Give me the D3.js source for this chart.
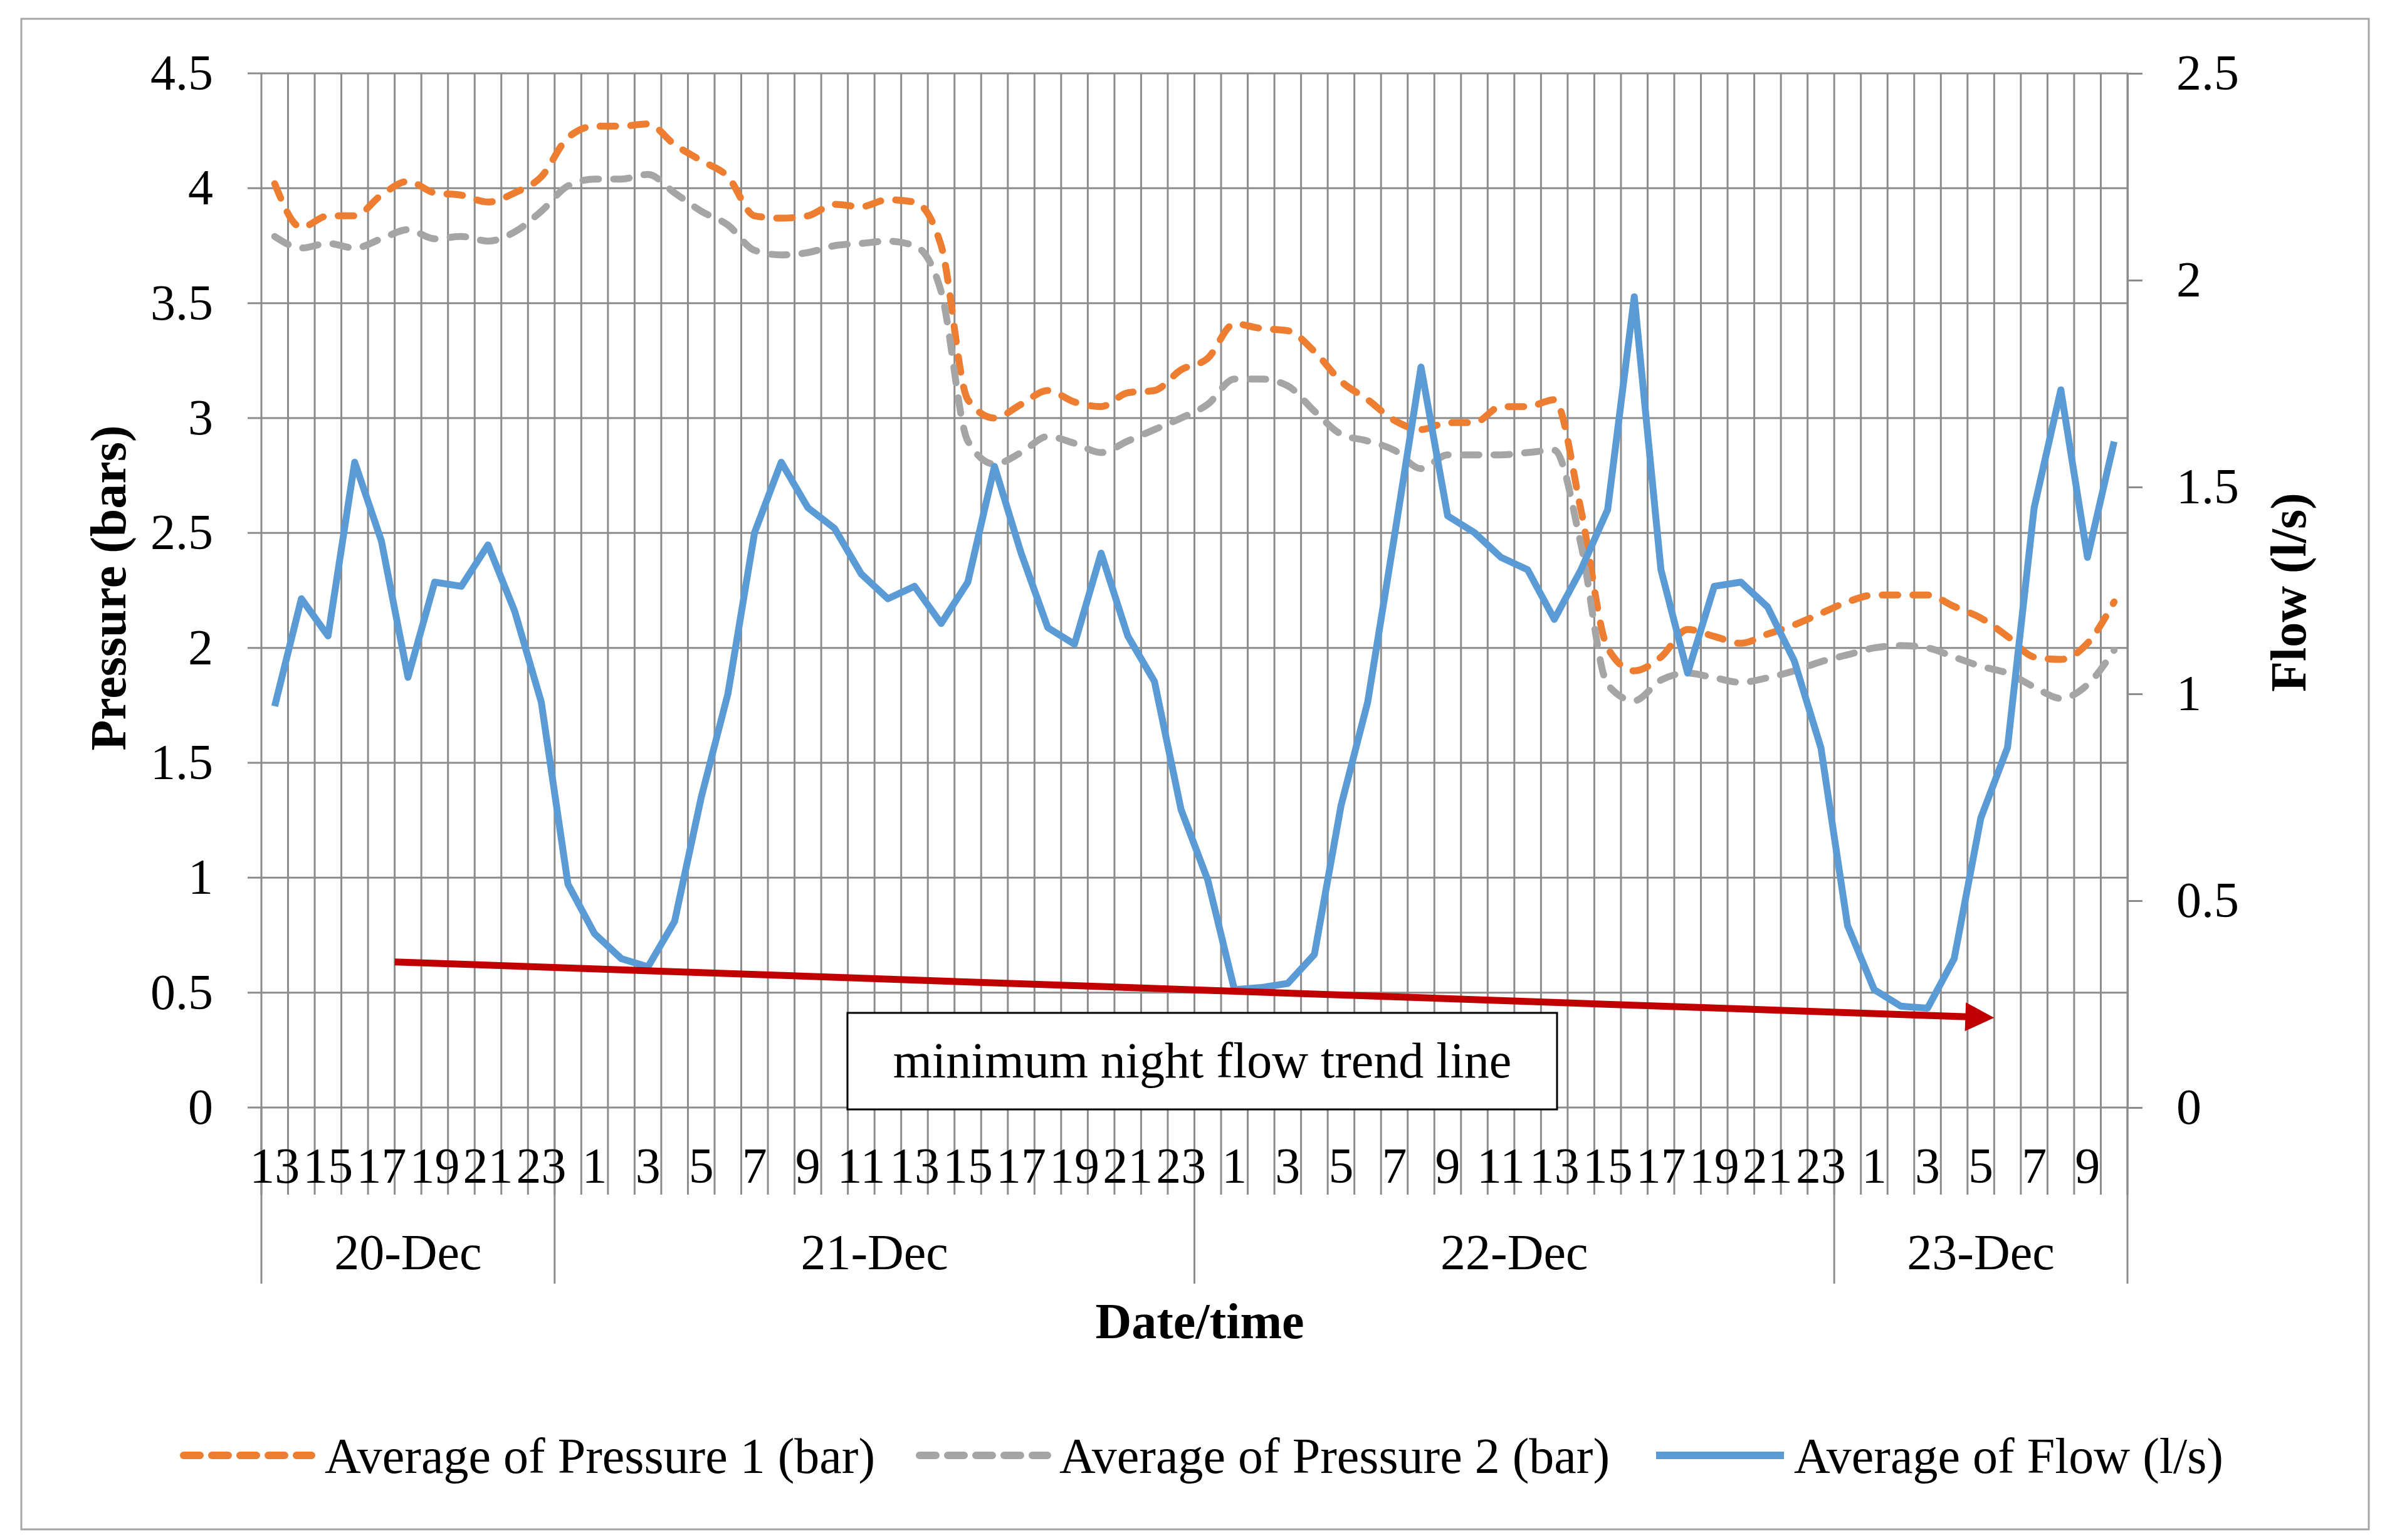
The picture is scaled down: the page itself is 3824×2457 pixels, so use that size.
<!DOCTYPE html>
<html>
<head>
<meta charset="utf-8">
<script src="https://cdn.jsdelivr.net/npm/d3@7"></script>
<style>
  body { margin: 0; background: #fff; }
  text { font-family: "Liberation Serif", "Times New Roman", serif; fill: #000; }
</style>
</head>
<body>
<script>
'use strict'

// hourly categories, grouped by day
const days = ['20-Dec', '21-Dec', '22-Dec', '23-Dec'];
const hours = [
	13,14,15,16,17,18,19,20,21,22,23,
	0,1,2,3,4,5,6,7,8,9,10,11,12,13,14,15,16,17,18,19,20,21,22,23,
	0,1,2,3,4,5,6,7,8,9,10,11,12,13,14,15,16,17,18,19,20,21,22,23,
	0,1,2,3,4,5,6,7,8,9,10
];
const hoursPerDay = [11, 24, 24, 11];

const pressure1 = [
	4.02,3.83,3.88,3.88,3.97,4.03,3.98,3.97,3.94,3.98,
	4.05,4.22,4.27,4.27,4.28,4.19,4.12,4.05,3.88,3.87,
	3.88,3.93,3.92,3.95,3.94,3.75,3.08,3.00,3.06,3.12,
	3.07,3.05,3.11,3.12,3.21,3.26,3.41,3.39,3.38,3.29,
	3.16,3.08,2.99,2.95,2.98,2.98,3.05,3.05,3.08,2.60,
	2.00,1.90,1.96,2.08,2.05,2.02,2.06,2.10,2.15,2.20,
	2.23,2.23,2.23,2.18,2.13,2.05,1.96,1.95,2.02,2.20
];
const pressure2 = [
	3.79,3.74,3.76,3.74,3.78,3.82,3.78,3.79,3.77,3.81,
	3.90,4.01,4.04,4.04,4.06,3.98,3.90,3.84,3.73,3.71,
	3.72,3.75,3.76,3.77,3.75,3.55,2.90,2.80,2.85,2.92,
	2.89,2.85,2.90,2.95,3.00,3.06,3.17,3.17,3.14,3.03,
	2.93,2.90,2.86,2.78,2.84,2.84,2.84,2.85,2.86,2.45,
	1.84,1.77,1.86,1.89,1.87,1.85,1.87,1.90,1.94,1.97,
	2.00,2.01,2.00,1.96,1.92,1.89,1.83,1.78,1.84,1.99
];
const flow = [
	0.97,1.23,1.14,1.56,1.37,1.04,1.27,1.26,1.36,1.20,
	0.98,0.54,0.42,0.36,0.34,0.45,0.75,1.00,1.39,1.56,
	1.45,1.40,1.29,1.23,1.26,1.17,1.27,1.55,1.34,1.16,
	1.12,1.34,1.14,1.03,0.72,0.55,0.285,0.29,0.30,0.37,
	0.73,0.98,1.38,1.79,1.43,1.39,1.33,1.30,1.18,1.30,
	1.445,1.96,1.30,1.05,1.26,1.27,1.21,1.08,0.87,0.44,
	0.285,0.245,0.24,0.36,0.70,0.87,1.45,1.735,1.33,1.61
];

const pressureTicks = [0, 0.5, 1, 1.5, 2, 2.5, 3, 3.5, 4, 4.5];
const flowTicks = [0, 0.5, 1, 1.5, 2, 2.5];
const seriesNames = ['Average of Pressure 1 (bar)', 'Average of Pressure 2 (bar)', 'Average of Flow (l/s)'];

// minimum night flow trend: from category boundary to category boundary, in l/s
const trendBoundary = [5, 65];
const trendFlow = [0.352, 0.217];
const trendLabel = 'minimum night flow trend line';

;(() => {
	const W = 3824, H = 2457;
	const plot = { left: 417, right: 3394, top: 117, bottom: 1767 };
	const colors = { p1: '#ED7D31', p2: '#A5A5A5', flow: '#5B9BD5', trend: '#C00000', grid: '#8C8C8C' };
	const fs = 80;
	const serif = '"Liberation Serif", "Times New Roman", serif';

	const svg = d3.select('body').append('svg')
		.attr('width', W)
		.attr('height', H);

	svg.append('rect')
		.attr('x', 34).attr('y', 30)
		.attr('width', 3745).attr('height', 2410)
		.attr('fill', '#fff')
		.attr('stroke', '#A6A6A6')
		.attr('stroke-width', 3);

	const n = hours.length;
	const x = d3.scaleBand().domain(d3.range(n)).range([plot.left, plot.right]);
	const bw = x.bandwidth();
	const cx = i => x(i) + bw / 2;
	const edge = i => i < n ? x(i) : plot.right;
	const yL = d3.scaleLinear().domain([0, 4.5]).range([plot.bottom, plot.top]);
	const yR = d3.scaleLinear().domain([0, 2.5]).range([plot.bottom, plot.top]);

	// horizontal gridlines (with short outside ticks on the left)
	svg.append('g').selectAll('line')
		.data(pressureTicks)
		.enter().append('line')
		.attr('x1', plot.left - 22).attr('x2', plot.right)
		.attr('y1', d => yL(d)).attr('y2', d => yL(d))
		.attr('stroke', colors.grid).attr('stroke-width', 3);

	// vertical gridlines at category boundaries, running down as ticks
	svg.append('g').selectAll('line')
		.data(d3.range(n + 1))
		.enter().append('line')
		.attr('x1', d => edge(d)).attr('x2', d => edge(d))
		.attr('y1', plot.top).attr('y2', plot.bottom + 139)
		.attr('stroke', colors.grid).attr('stroke-width', 3);

	// day separators
	const dayStarts = [0];
	hoursPerDay.forEach(c => dayStarts.push(dayStarts[dayStarts.length - 1] + c));
	svg.append('g').selectAll('line')
		.data(dayStarts)
		.enter().append('line')
		.attr('x1', d => edge(d)).attr('x2', d => edge(d))
		.attr('y1', plot.bottom).attr('y2', plot.bottom + 281)
		.attr('stroke', colors.grid).attr('stroke-width', 3);

	// left axis labels
	const gL = svg.append('g')
		.attr('transform', `translate(${plot.left},0)`)
		.call(d3.axisLeft(yL).tickValues(pressureTicks).tickFormat(d => String(d)).tickSize(0).tickPadding(77));
	gL.select('.domain').remove();
	gL.selectAll('text').style('font-size', fs + 'px').style('font-family', serif);

	// right axis
	const gR = svg.append('g')
		.attr('transform', `translate(${plot.right},0)`)
		.call(d3.axisRight(yR).tickValues(flowTicks).tickFormat(d => String(d))
			.tickSizeInner(24).tickSizeOuter(0).tickPadding(54));
	gR.select('.domain').attr('stroke', colors.grid).attr('stroke-width', 3);
	gR.selectAll('line').attr('stroke', colors.grid).attr('stroke-width', 3);
	gR.selectAll('text').style('font-size', fs + 'px').style('font-family', serif);

	// hour labels (odd hours)
	const labelled = d3.range(n).filter(i => hours[i] % 2 === 1);
	const gB = svg.append('g')
		.attr('transform', `translate(0,${plot.bottom})`)
		.call(d3.axisBottom(x).tickValues(labelled).tickFormat(i => hours[i]).tickSize(0).tickPadding(63));
	gB.select('.domain').remove();
	gB.selectAll('text').style('font-size', fs + 'px').style('font-family', serif);

	// day labels
	svg.append('g').selectAll('text')
		.data(days)
		.enter().append('text')
		.attr('x', (d, k) => (edge(dayStarts[k]) + edge(dayStarts[k + 1])) / 2)
		.attr('y', 2025)
		.attr('text-anchor', 'middle')
		.style('font-size', fs + 'px')
		.text(d => d);

	// series
	const pLine = d3.line()
		.x((d, i) => cx(i))
		.y(d => yL(d))
		.curve(d3.curveMonotoneX);
	const fLine = d3.line()
		.x((d, i) => cx(i))
		.y(d => yR(d));

	svg.append('path').datum(pressure1)
		.attr('d', pLine)
		.attr('fill', 'none').attr('stroke', colors.p1).attr('stroke-width', 11)
		.attr('stroke-dasharray', '25,24').attr('stroke-linecap', 'round');
	svg.append('path').datum(pressure2)
		.attr('d', pLine)
		.attr('fill', 'none').attr('stroke', colors.p2).attr('stroke-width', 11)
		.attr('stroke-dasharray', '25,24').attr('stroke-linecap', 'round');
	svg.append('path').datum(flow)
		.attr('d', fLine)
		.attr('fill', 'none').attr('stroke', colors.flow).attr('stroke-width', 11)
		.attr('stroke-linejoin', 'round');

	// trend arrow
	const x0 = edge(trendBoundary[0]), y0 = yR(trendFlow[0]);
	const x1 = edge(trendBoundary[1]), y1 = yR(trendFlow[1]);
	const ang = Math.atan2(y1 - y0, x1 - x0);
	const head = 46, half = 23;
	const bx = x1 - head * Math.cos(ang), by = y1 - head * Math.sin(ang);
	svg.append('line')
		.attr('x1', x0).attr('y1', y0)
		.attr('x2', bx + 4 * Math.cos(ang)).attr('y2', by + 4 * Math.sin(ang))
		.attr('stroke', colors.trend).attr('stroke-width', 11);
	svg.append('path')
		.attr('d', `M${x1},${y1} L${bx - half * Math.sin(ang)},${by + half * Math.cos(ang)} L${bx + half * Math.sin(ang)},${by - half * Math.cos(ang)} Z`)
		.attr('fill', colors.trend);

	// annotation box
	svg.append('rect')
		.attr('x', 1352).attr('y', 1616)
		.attr('width', 1132).attr('height', 154)
		.attr('fill', '#fff').attr('stroke', '#000').attr('stroke-width', 3);
	svg.append('text')
		.attr('x', 1918).attr('y', 1719)
		.attr('text-anchor', 'middle')
		.style('font-size', fs + 'px')
		.text(trendLabel);

	// axis titles
	svg.append('text')
		.attr('transform', 'translate(172,938) rotate(-90)')
		.attr('dy', '0.35em')
		.attr('text-anchor', 'middle')
		.style('font-size', fs + 'px').style('font-weight', 'bold')
		.text('Pressure (bars)');
	svg.append('text')
		.attr('transform', 'translate(3650,945) rotate(-90)')
		.attr('dy', '0.35em')
		.attr('text-anchor', 'middle')
		.style('font-size', fs + 'px').style('font-weight', 'bold')
		.text('Flow (l/s)');
	svg.append('text')
		.attr('x', 1914).attr('y', 2135)
		.attr('text-anchor', 'middle')
		.style('font-size', fs + 'px').style('font-weight', 'bold')
		.text('Date/time');

	// legend
	const legendY = 2322;
	const legend = [
		{ name: seriesNames[0], color: colors.p1, dash: '26,19', lx: 287, tx: 518 },
		{ name: seriesNames[1], color: colors.p2, dash: '26,19', lx: 1461, tx: 1690 },
		{ name: seriesNames[2], color: colors.flow, dash: null, lx: 2636, tx: 2862 }
	];
	const lg = svg.append('g').selectAll('g')
		.data(legend)
		.enter().append('g');
	lg.append('line')
		.attr('x1', d => d.lx + 6).attr('x2', d => d.lx + 210)
		.attr('y1', legendY).attr('y2', legendY)
		.attr('stroke', d => d.color).attr('stroke-width', 12)
		.attr('stroke-dasharray', d => d.dash)
		.attr('stroke-linecap', d => d.dash ? 'round' : 'butt');
	lg.append('text')
		.attr('x', d => d.tx).attr('y', 2350)
		.style('font-size', fs + 'px')
		.text(d => d.name);
})();
</script>
</body>
</html>
